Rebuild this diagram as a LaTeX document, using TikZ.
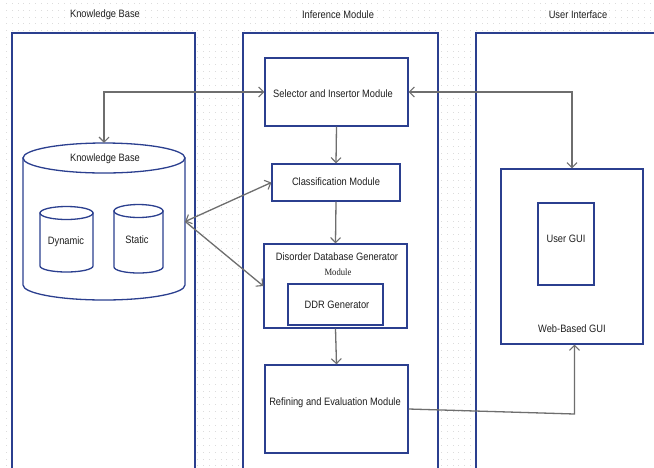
\documentclass[tikz,border=0pt]{standalone}
\usepackage{fontspec}
\setmainfont[FakeStretch=0.87]{Liberation Sans}
\newfontfamily\serifmod[FakeStretch=0.9]{Liberation Serif}
\usetikzlibrary{arrows.meta}
\definecolor{frame}{HTML}{2B3F8F}
\definecolor{wire}{HTML}{6E6E6E}
\definecolor{griddot}{HTML}{DCDCDC}
\tikzset{
  lane/.style={draw=frame, line width=1.6pt, fill=white, inner sep=0pt, anchor=north west},
  box/.style={draw=frame, line width=1.3pt, fill=white, inner sep=0pt},
  cylline/.style={draw=frame, line width=1.3pt, fill=white},
  txt/.style={font=\fontsize{10.7}{12}\selectfont, inner sep=0pt, text=black!88},
  tip/.style={},
  arr/.style={draw=wire, line width=1.3pt, -{Straight Barb[length=5pt,width=10pt,line width=1.1pt]}},
  darr/.style={draw=wire, line width=1.3pt, {Straight Barb[length=5pt,width=10pt,line width=1.1pt]}-{Straight Barb[length=5pt,width=10pt,line width=1.1pt]}},
}
\begin{document}
\begin{tikzpicture}[x=1pt, y=-1pt]
\useasboundingbox (0,0) rectangle (654,467);
\clip (0,0) rectangle (654,467);
\fill[white] (0,0) rectangle (654,467);
% dotted drawing grid
\foreach \i in {0,...,112} {
  \foreach \j in {0,...,68} {
    \fill[griddot] (5.8*\i+6,6.8*\j+3) rectangle ++(0.9,0.9);
  }
}
% lane titles
\node[txt] (tkb) at (105,15) {Knowledge Base};
\node[txt] (tim) at (338,15) {Inference Module};
\node[txt] (tui) at (578,15) {User Interface};
% lanes
\node[lane, minimum width=183pt, minimum height=460pt] (lkb) at (11,32) {};
\node[lane, minimum width=195pt, minimum height=460pt] (lim) at (242,32) {};
\node[lane, minimum width=200pt, minimum height=460pt] (lui) at (475,32) {};

% knowledge base cylinder
\path[cylline] (23,158) -- (23,285) arc[start angle=180, end angle=360, x radius=81pt, y radius=15pt] -- (185,158) -- cycle;
\path[cylline] (104,158) ellipse [x radius=81pt, y radius=15pt];
\node[inner sep=0pt, minimum width=162pt, minimum height=157pt] (kb) at (104,221.5) {};
\node[txt] (kbl) at (105,159) {Knowledge Base};
% dynamic store
\path[cylline] (40,213) -- (40,266) arc[start angle=180, end angle=360, x radius=26.5pt, y radius=6pt] -- (93,213) -- cycle;
\path[cylline] (66.5,213) ellipse [x radius=26.5pt, y radius=6.5pt];
\node[txt] (dyn) at (66,242) {Dynamic};
% static store
\path[cylline] (114,211) -- (114,267) arc[start angle=180, end angle=360, x radius=24.5pt, y radius=6pt] -- (163,211) -- cycle;
\path[cylline] (138.5,211) ellipse [x radius=24.5pt, y radius=6.5pt];
\node[txt] (sta) at (137,240) {Static};

% inference modules
\node[box, minimum width=143pt, minimum height=68pt] (sel) at (336.5,92) {};
\node[txt] (sell) at (333,94) {Selector and Insertor Module};
\node[box, minimum width=128pt, minimum height=37pt] (cls) at (336,182.5) {};
\node[txt] (clsl) at (336,182) {Classification Module};
\node[box, minimum width=143pt, minimum height=84pt] (dis) at (335.5,286) {};
\node[txt] (disl) at (337,257) {Disorder Database Generator};
\node[inner sep=0pt, font=\serifmod\fontsize{9.6}{11}\selectfont, text=black!88] (disl2) at (338,272.5) {Module};
\node[box, minimum width=95pt, minimum height=41pt] (ddr) at (335.5,304.5) {};
\node[txt] (ddrl) at (337,305) {DDR Generator};
\node[box, minimum width=143pt, minimum height=88pt] (ref) at (336.5,409) {};
\node[txt] (refl) at (335,403) {Refining and Evaluation Module};

% user interface
\node[box, minimum width=142pt, minimum height=175pt] (web) at (572,256.5) {};
\node[txt] (webl) at (572,329) {Web-Based GUI};
\node[box, minimum width=56pt, minimum height=82pt] (ugui) at (566,244) {};
\node[txt] (uguil) at (566,239) {User GUI};

% connectors
\draw[darr] (kb.north) |- (sel.west);
\draw[darr] (sel.east) -| (web.north);
\draw[arr] (sel.south) -- (cls.north);
\draw[arr] (cls.south) -- (dis.north);
\draw[arr] (dis.south) -- (ref.north);
\draw[darr] (kb.east) -- (cls.west);
\draw[arr] (kb.east) -- (dis.west);
\coordinate (bend) at (574.5,414);
\draw[arr] (ref.east) -- (bend) -- (bend |- web.south);
\end{tikzpicture}
\end{document}
